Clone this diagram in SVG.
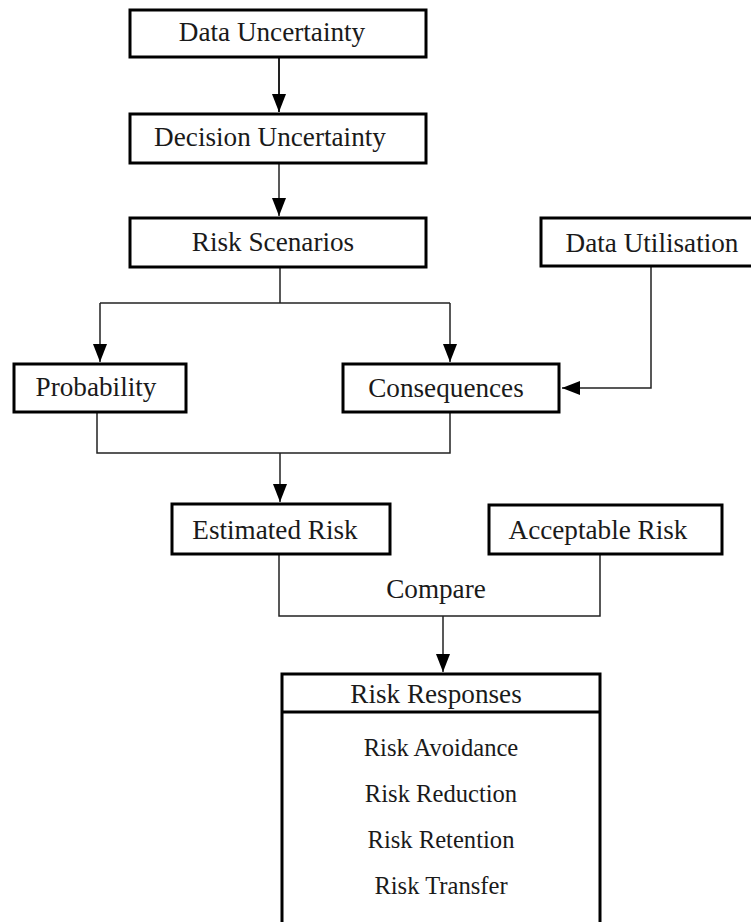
<svg xmlns="http://www.w3.org/2000/svg" width="751" height="922" viewBox="0 0 751 922">
<style>
.box{fill:#fff;stroke:#000;stroke-width:3}
.t{font-family:"Liberation Serif","Times New Roman",serif;font-size:27.2px;fill:#1a1a1a;text-anchor:middle}
.i{font-size:24.6px}
.c{fill:none;stroke:#222;stroke-width:1.5}
</style>
<defs>
<marker id="ah" viewBox="0 0 18 14" refX="18" refY="7" markerWidth="18" markerHeight="14" markerUnits="userSpaceOnUse" orient="auto">
<path d="M0,0 L18,7 L0,14 Z" fill="#000"/>
</marker>
</defs>
<rect width="751" height="922" fill="#fff"/>
<g id="connectors">
<line class="c" x1="279" y1="58" x2="279" y2="112" marker-end="url(#ah)" style="stroke-width:2"/>
<line class="c" x1="279" y1="164" x2="279" y2="216" marker-end="url(#ah)"/>
<polyline class="c" points="280,268 280,303"/>
<polyline class="c" points="100,303 450,303"/>
<line class="c" x1="100" y1="303" x2="100" y2="362" marker-end="url(#ah)"/>
<line class="c" x1="450" y1="303" x2="450" y2="362" marker-end="url(#ah)"/>
<polyline class="c" points="651,267 651,388 562,388" marker-end="url(#ah)"/>
<polyline class="c" points="97,413 97,453 450,453 450,413"/>
<line class="c" x1="280" y1="453" x2="280" y2="502" marker-end="url(#ah)"/>
<polyline class="c" points="279,555 279,616 600,616 600,555"/>
<line class="c" x1="443" y1="616" x2="443" y2="672" marker-end="url(#ah)"/>
</g>
<g id="data-uncertainty">
<rect class="box" x="130" y="10" width="296" height="47"/>
<text class="t" x="272" y="41">Data Uncertainty</text>
</g>
<g id="decision-uncertainty">
<rect class="box" x="130" y="114" width="296" height="49"/>
<text class="t" x="270" y="146">Decision Uncertainty</text>
</g>
<g id="risk-scenarios">
<rect class="box" x="130" y="218" width="296" height="49"/>
<text class="t" x="273" y="251">Risk Scenarios</text>
</g>
<g id="data-utilisation">
<rect class="box" x="541" y="218" width="220" height="48"/>
<text class="t" x="652" y="252">Data Utilisation</text>
</g>
<g id="probability">
<rect class="box" x="14" y="364" width="172" height="48"/>
<text class="t" x="96" y="396">Probability</text>
</g>
<g id="consequences">
<rect class="box" x="343" y="364" width="216" height="48"/>
<text class="t" x="446" y="397">Consequences</text>
</g>
<g id="estimated-risk">
<rect class="box" x="172" y="504" width="218" height="50"/>
<text class="t" x="275" y="539">Estimated Risk</text>
</g>
<g id="acceptable-risk">
<rect class="box" x="489" y="505" width="233" height="49"/>
<text class="t" x="598" y="539">Acceptable Risk</text>
</g>
<g id="compare-label">
<text class="t" x="436" y="598">Compare</text>
</g>
<g id="risk-responses">
<rect class="box" x="282" y="674" width="318" height="260"/>
<line x1="282" y1="712" x2="600" y2="712" stroke="#000" stroke-width="3"/>
<text class="t" x="436" y="703">Risk Responses</text>
<text class="t i" x="441" y="756">Risk Avoidance</text>
<text class="t i" x="441" y="802">Risk Reduction</text>
<text class="t i" x="441" y="848">Risk Retention</text>
<text class="t i" x="441" y="894">Risk Transfer</text>
</g>
</svg>
